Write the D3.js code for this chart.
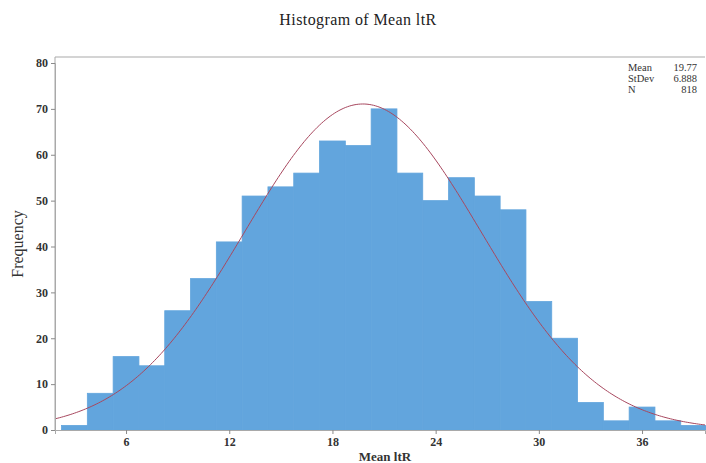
<!DOCTYPE html>
<html>
<head>
<meta charset="utf-8">
<script src="https://cdn.jsdelivr.net/npm/d3@7"></script>
<style>
  body { margin: 0; background: #fff; }
  svg { display: block; }
</style>
</head>
<body>
<div id="chart"></div>
<script>
// Histogram data (bin centers, bin width 1.5)
const binCenters = [3, 4.5, 6, 7.5, 9, 10.5, 12, 13.5, 15, 16.5, 18, 19.5, 21, 22.5, 24, 25.5, 27, 28.5, 30, 31.5, 33, 34.5, 36, 37.5, 39];
const counts = [1, 8, 16, 14, 26, 33, 41, 51, 53, 56, 63, 62, 70, 56, 50, 55, 51, 48, 28, 20, 6, 2, 5, 2, 1];
const binWidth = 1.5;
const xTicks = [6, 12, 18, 24, 30, 36];
const yTicks = [0, 10, 20, 30, 40, 50, 60, 70, 80];
const statLabels = ['Mean', 'StDev', 'N'];
const statValues = ['19.77', '6.888', '818'];
const mean = 19.77, stdev = 6.888, n = 818;

const svgWidth = 706, svgHeight = 463;
const plot = { left: 55, right: 705, top: 57, bottom: 430 };

const svg = d3.select('#chart')
    .append('svg')
    .attr('width', svgWidth)
    .attr('height', svgHeight)
    .style('font-family', '"Liberation Serif", "Times New Roman", serif');

// Scales
const x = d3.scaleLinear()
    .domain([1.87, 39.66])
    .range([plot.left, plot.right]);

const y = d3.scaleLinear()
    .domain([0, 80])
    .range([plot.bottom, 63]);

// Bars (stroked in the fill colour so neighbouring bars join without seams)
svg.append('g')
    .selectAll('rect')
    .data(binCenters)
    .enter()
    .append('rect')
    .attr('x', d => x(d - binWidth / 2))
    .attr('width', d => x(d + binWidth / 2) - x(d - binWidth / 2))
    .attr('y', (d, i) => y(counts[i]))
    .attr('height', (d, i) => y(0) - y(counts[i]))
    .attr('fill', '#62a5dd')
    .attr('stroke', '#62a5dd')
    .attr('stroke-width', 0.8);

// Fitted normal curve
const curvePts = d3.range(0, 301).map(i => {
    const v = x.domain()[0] + (x.domain()[1] - x.domain()[0]) * i / 300;
    const z = (v - mean) / stdev;
    return [v, n * binWidth / (stdev * Math.sqrt(2 * Math.PI)) * Math.exp(-0.5 * z * z)];
});

svg.append('path')
    .datum(curvePts)
    .attr('fill', 'none')
    .attr('stroke', '#a8485f')
    .attr('stroke-width', 1)
    .attr('d', d3.line().x(d => x(d[0])).y(d => y(d[1])));

// Frame
svg.append('path')
    .attr('d', `M${plot.left},${plot.bottom}V${plot.top}H${plot.right}`)
    .attr('fill', 'none')
    .attr('stroke', '#a9a9a9')
    .attr('stroke-width', 1);

// Axes
const yAxis = svg.append('g')
    .attr('transform', `translate(${plot.left},0)`)
    .call(d3.axisLeft(y).tickValues(yTicks).tickSize(4).tickPadding(3));

const xAxis = svg.append('g')
    .attr('transform', `translate(0,${plot.bottom})`)
    .call(d3.axisBottom(x).tickValues(xTicks).tickSize(4).tickPadding(3));

[yAxis, xAxis].forEach(a => {
    a.select('.domain').attr('stroke', '#a9a9a9');
    a.selectAll('.tick line').attr('stroke', '#8a8a8a');
    a.selectAll('.tick text')
        .style('font-family', '"Liberation Serif", serif')
        .style('font-size', '12px')
        .style('font-weight', 'bold')
        .attr('fill', '#333');
});

// Title
svg.append('text')
    .attr('x', 358)
    .attr('y', 25)
    .attr('text-anchor', 'middle')
    .style('font-size', '16px')
    .style('letter-spacing', '0.4px')
    .attr('fill', '#222')
    .text('Histogram of Mean ltR');

// Axis labels
svg.append('text')
    .attr('x', 385)
    .attr('y', 461)
    .attr('text-anchor', 'middle')
    .style('font-size', '13px')
    .style('font-weight', 'bold')
    .attr('fill', '#333')
    .text('Mean ltR');

svg.append('text')
    .attr('transform', 'translate(23,244) rotate(-90)')
    .attr('text-anchor', 'middle')
    .style('font-size', '16px')
    .attr('fill', '#333')
    .text('Frequency');

// Stats box
const stats = svg.append('g')
    .style('font-size', '10.5px')
    .attr('fill', '#333');

statLabels.forEach((s, i) => {
    stats.append('text')
        .attr('x', 628)
        .attr('y', 71 + i * 11)
        .text(s);
    stats.append('text')
        .attr('x', 697)
        .attr('y', 71 + i * 11)
        .attr('text-anchor', 'end')
        .text(statValues[i]);
});
</script>
</body>
</html>
